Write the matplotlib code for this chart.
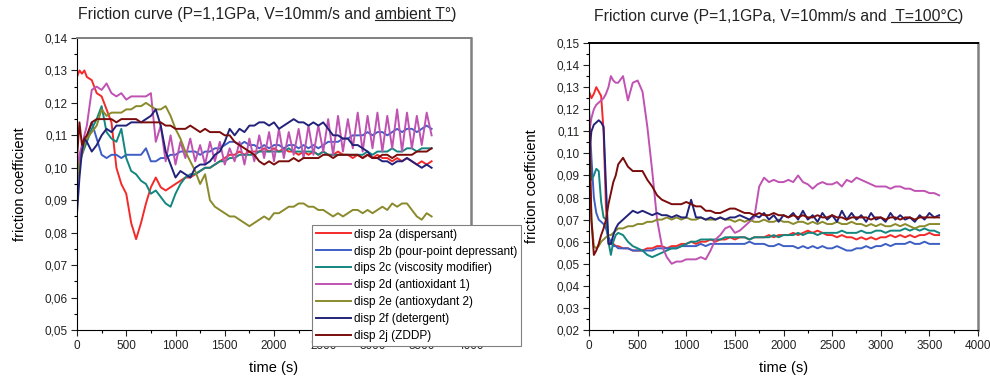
import numpy as np
import matplotlib
matplotlib.use("Agg")
import matplotlib.pyplot as plt
from matplotlib.ticker import MultipleLocator, FuncFormatter
from matplotlib.lines import Line2D

plt.rcParams['font.family'] = ['Liberation Sans', 'DejaVu Sans']

# -----------------------------
# Data
# -----------------------------
# sample times (s)
time_amb = np.concatenate([np.arange(0, 100, 25), np.arange(100, 3601, 50)])
time_hot = np.concatenate([np.arange(0, 300, 25), np.arange(300, 3601, 50)])

# ambient temperature
amb_2a = [.128, .130, .129, .130, .128, .127, .123, .122, .118, .114,
          .100, .095, .092, .083, .078, .083, .089, .094, .097, .094,
          .093, .094, .095, .096, .097, .097, .098, .099, .100, .100,
          .101, .102, .103, .104, .104, .105, .104, .105, .105, .105,
          .106, .105, .106, .105, .106, .105, .105, .104, .105, .104,
          .105, .104, .105, .104, .104, .105, .104, .104, .103, .104,
          .103, .104, .103, .104, .103, .103, .102, .103, .102, .103,
          .102, .101, .102, .101, .102]
amb_2b = [.099, .102, .106, .108, .109, .114, .109, .104, .103, .104,
          .104, .103, .104, .104, .104, .104, .106, .102, .102, .103,
          .103, .104, .104, .105, .105, .105, .105, .104, .105, .105,
          .106, .106, .107, .108, .108, .107, .108, .107, .107, .106,
          .107, .106, .107, .107, .106, .107, .107, .106, .107, .106,
          .107, .106, .107, .108, .108, .108, .109, .109, .110, .110,
          .110, .111, .110, .111, .111, .110, .111, .112, .111, .112,
          .112, .111, .112, .113, .112]
amb_2c = [.100, .102, .104, .106, .108, .112, .115, .119, .111, .109,
          .108, .112, .103, .099, .098, .096, .095, .092, .093, .091,
          .089, .088, .092, .095, .097, .098, .098, .099, .100, .100,
          .101, .102, .102, .103, .103, .104, .104, .104, .104, .105,
          .105, .105, .105, .105, .105, .106, .105, .105, .105, .105,
          .105, .104, .105, .104, .104, .104, .104, .104, .104, .104,
          .104, .105, .104, .105, .105, .105, .106, .105, .105, .106,
          .106, .105, .106, .106, .106]
amb_2d = [.100, .104, .107, .110, .113, .124, .125, .124, .126, .123,
          .122, .123, .121, .122, .122, .122, .122, .123, .108, .113,
          .102, .110, .101, .108, .103, .109, .102, .107, .101, .108,
          .102, .108, .101, .106, .102, .108, .101, .109, .102, .110,
          .103, .111, .102, .112, .103, .111, .104, .112, .103, .113,
          .104, .113, .105, .115, .104, .116, .105, .115, .106, .117,
          .105, .116, .106, .117, .105, .116, .106, .118, .105, .117,
          .106, .116, .107, .117, .110]
amb_2e = [.095, .101, .104, .107, .109, .111, .113, .118, .116, .117,
          .117, .117, .118, .118, .119, .119, .120, .119, .118, .118,
          .119, .116, .112, .109, .105, .102, .099, .095, .098, .090,
          .088, .087, .086, .085, .085, .084, .083, .082, .083, .084,
          .085, .084, .086, .086, .087, .088, .088, .089, .089, .088,
          .088, .087, .087, .086, .085, .086, .085, .086, .087, .087,
          .086, .087, .086, .087, .088, .087, .089, .088, .089, .089,
          .087, .085, .084, .086, .085]
amb_2f = [.086, .097, .105, .109, .108, .105, .107, .110, .112, .111,
          .113, .113, .113, .114, .114, .114, .115, .116, .118, .113,
          .105, .101, .097, .099, .098, .097, .100, .101, .101, .102,
          .104, .105, .108, .112, .110, .112, .111, .113, .113, .114,
          .114, .113, .114, .112, .113, .114, .115, .114, .114, .113,
          .114, .113, .114, .112, .110, .110, .109, .109, .107, .107,
          .106, .105, .103, .103, .102, .102, .101, .102, .102, .103,
          .102, .101, .100, .101, .100]
amb_2j = [.103, .114, .107, .109, .110, .114, .115, .115, .115, .115,
          .114, .115, .115, .115, .115, .114, .114, .114, .114, .114,
          .113, .113, .112, .112, .112, .113, .112, .111, .112, .111,
          .111, .111, .110, .110, .108, .107, .106, .105, .104, .102,
          .101, .102, .101, .102, .102, .102, .103, .102, .103, .103,
          .103, .103, .104, .104, .103, .104, .104, .104, .104, .104,
          .103, .104, .103, .103, .104, .104, .103, .104, .104, .104,
          .104, .105, .105, .105, .106]

# T = 100 °C
hot_2a = [.128, .125, .127, .130, .128, .126, .110, .075, .060, .059, .059, .058,
          .058, .057, .057, .056, .056, .056, .057, .057, .058, .058,
          .057, .058, .058, .059, .059, .060, .059, .060, .060, .061,
          .060, .061, .061, .062, .061, .062, .062, .061, .062, .062,
          .062, .063, .062, .063, .063, .063, .064, .063, .064, .065,
          .064, .065, .064, .063, .063, .062, .063, .062, .062, .061,
          .062, .061, .062, .061, .062, .062, .063, .062, .063, .062,
          .063, .062, .063, .063, .064, .063, .063]
hot_2b = [.120, .098, .080, .073, .070, .069, .068, .066, .062, .060, .058, .058,
          .057, .057, .057, .056, .056, .056, .056, .056, .057, .057,
          .057, .057, .057, .058, .058, .058, .058, .059, .058, .059,
          .059, .059, .059, .059, .059, .059, .059, .060, .059, .059,
          .059, .058, .058, .059, .058, .058, .058, .057, .058, .057,
          .058, .057, .058, .057, .057, .058, .057, .056, .056, .057,
          .057, .058, .057, .058, .058, .059, .058, .059, .059, .059,
          .060, .059, .059, .060, .059, .059, .059]
hot_2c = [.105, .088, .090, .093, .092, .078, .071, .070, .060, .054, .060, .063,
          .064, .063, .060, .058, .057, .056, .054, .053, .054, .055,
          .056, .057, .057, .058, .059, .060, .060, .061, .061, .061,
          .061, .061, .062, .062, .062, .062, .062, .061, .062, .062,
          .062, .062, .063, .062, .063, .063, .063, .064, .063, .064,
          .064, .063, .064, .064, .064, .064, .065, .064, .064, .064,
          .065, .064, .064, .065, .065, .064, .065, .065, .065, .066,
          .065, .066, .065, .066, .065, .065, .064]
hot_2d = [.109, .116, .120, .122, .123, .124, .125, .127, .130, .135, .133, .132,
          .132, .135, .124, .132, .133, .128, .112, .092, .070, .058,
          .053, .050, .051, .051, .052, .052, .052, .053, .052, .056,
          .061, .063, .066, .067, .064, .065, .067, .069, .071, .085,
          .089, .087, .088, .087, .087, .088, .087, .090, .087, .086,
          .084, .086, .087, .086, .086, .087, .085, .088, .087, .089,
          .088, .087, .086, .085, .085, .085, .084, .085, .085, .084,
          .084, .083, .083, .083, .082, .082, .081]
hot_2e = [.100, .070, .058, .057, .058, .060, .061, .062, .063, .063, .064, .065,
          .066, .066, .067, .067, .068, .068, .069, .069, .070, .070,
          .071, .070, .071, .070, .071, .070, .070, .071, .070, .070,
          .070, .071, .070, .070, .069, .070, .069, .070, .069, .069,
          .070, .069, .069, .070, .069, .069, .068, .069, .069, .068,
          .069, .068, .069, .068, .068, .069, .068, .068, .069, .068,
          .068, .067, .068, .067, .068, .067, .067, .068, .067, .068,
          .067, .066, .067, .067, .068, .068, .068]
hot_2f = [.100, .110, .113, .114, .115, .114, .112, .085, .059, .059, .063, .066,
          .068, .070, .072, .074, .073, .074, .073, .072, .073, .072,
          .072, .071, .072, .071, .071, .079, .071, .071, .070, .071,
          .070, .071, .070, .071, .071, .072, .071, .070, .072, .071,
          .073, .070, .072, .069, .072, .071, .073, .070, .074, .070,
          .072, .069, .073, .070, .072, .069, .074, .070, .073, .070,
          .072, .069, .073, .070, .071, .069, .073, .070, .072, .070,
          .071, .069, .072, .070, .073, .071, .072]
hot_2j = [.120, .070, .054, .056, .059, .063, .066, .070, .077, .082, .087, .090,
          .095, .098, .094, .092, .092, .092, .088, .085, .081, .079,
          .078, .077, .077, .077, .078, .077, .076, .076, .074, .074,
          .073, .073, .074, .075, .075, .074, .073, .073, .072, .073,
          .072, .072, .073, .072, .072, .071, .072, .071, .072, .071,
          .071, .072, .071, .071, .072, .071, .071, .070, .071, .071,
          .071, .071, .070, .071, .071, .070, .071, .071, .070, .071,
          .071, .070, .071, .071, .071, .071, .071]

labels = ["disp 2a (dispersant)", "disp 2b (pour-point depressant)",
          "dips 2c (viscosity modifier)", "disp 2d (antioxidant 1)",
          "disp 2e (antioxydant 2)", "disp 2f (detergent)", "disp 2j (ZDDP)"]
colors = ["#f42a2a", "#3d5fc4", "#13877f", "#c052b2", "#8a8a2c", "#22227a", "#7a0c0c"]

amb_series = [amb_2a, amb_2b, amb_2c, amb_2d, amb_2e, amb_2f, amb_2j]
hot_series = [hot_2a, hot_2b, hot_2c, hot_2d, hot_2e, hot_2f, hot_2j]

# -----------------------------
# Figure
# -----------------------------
W, H = 990, 376
fig = plt.figure(figsize=(W / 100, H / 100), dpi=100)
ax1 = fig.add_axes([77 / W, 46 / H, 394 / W, 292 / H])
ax2 = fig.add_axes([589 / W, 46 / H, 389 / W, 287 / H])

comma = FuncFormatter(lambda v, p: f"{v:.2f}".replace(".", ","))


def style(ax, ymin, ymax, top_color, ypad):
    ax.set_xlim(0, 4000)
    ax.set_ylim(ymin, ymax)
    ax.xaxis.set_major_locator(MultipleLocator(500))
    ax.xaxis.set_minor_locator(MultipleLocator(250))
    ax.yaxis.set_major_locator(MultipleLocator(0.01))
    ax.yaxis.set_minor_locator(MultipleLocator(0.005))
    ax.yaxis.set_major_formatter(comma)
    ax.tick_params(which="major", direction="out", length=4, width=0.8,
                   labelsize=8.5, colors="#222222", pad=3)
    ax.tick_params(which="minor", direction="out", length=2, width=0.8)
    ax.tick_params(top=False, right=False)
    ax.spines["left"].set_linewidth(0.8)
    ax.spines["bottom"].set_linewidth(0.8)
    ax.spines["top"].set_color(top_color)
    ax.spines["top"].set_linewidth(1.4)
    ax.spines["right"].set_color("#808080")
    ax.spines["right"].set_linewidth(1.8)
    ax.set_xlabel("time (s)", fontsize=10.5, labelpad=7)
    ax.set_ylabel("friction coefficient", fontsize=10.5, labelpad=ypad)


for vals, c, lab in zip(amb_series, colors, labels):
    ax1.plot(time_amb, vals, color=c, lw=1.4, label=lab)
for vals, c in zip(hot_series, colors):
    ax2.plot(time_hot, vals, color=c, lw=1.4)

style(ax1, 0.05, 0.14, "#808080", 12)
style(ax2, 0.02, 0.15, "black", 12)

# legend sits over the x tick labels, as in the original
leg = ax1.legend(loc="upper left", bbox_to_anchor=(312 / W, 1 - 225 / H),
                 bbox_transform=fig.transFigure, borderaxespad=0, fontsize=8.5,
                 handlelength=3.0, handletextpad=0.3, labelspacing=0.42,
                 borderpad=0.3, fancybox=False, framealpha=1)
leg.get_frame().set_edgecolor("#808080")
leg.get_frame().set_linewidth(0.8)

# -----------------------------
# Titles with underlined part
# -----------------------------
renderer = fig.canvas.get_renderer()


def underlined_title(xc, yc, before, under, after):
    t = fig.text(xc, yc, before + under + after, fontsize=11.3, ha="center",
                 va="center", color="#222222")
    full = t.get_window_extent(renderer)
    tmp = fig.text(0, 0, before, fontsize=11.3)
    w_before = tmp.get_window_extent(renderer).width
    tmp.set_text(before + under)
    w_under = tmp.get_window_extent(renderer).width
    tmp.remove()
    x0 = (full.x0 + w_before) / W
    x1 = (full.x0 + w_under) / W
    y = (full.y0 + 1.5) / H
    fig.add_artist(Line2D([x0, x1], [y, y], transform=fig.transFigure,
                          color="#222222", lw=0.8))


underlined_title(267.5 / W, 1 - 14 / H,
                 "Friction curve (P=1,1GPa, V=10mm/s and ", "ambient T°", ")")
underlined_title(778.5 / W, 1 - 16 / H,
                 "Friction curve (P=1,1GPa, V=10mm/s and ", " T=100°C", ")")

fig.savefig("out.png", dpi=100)
